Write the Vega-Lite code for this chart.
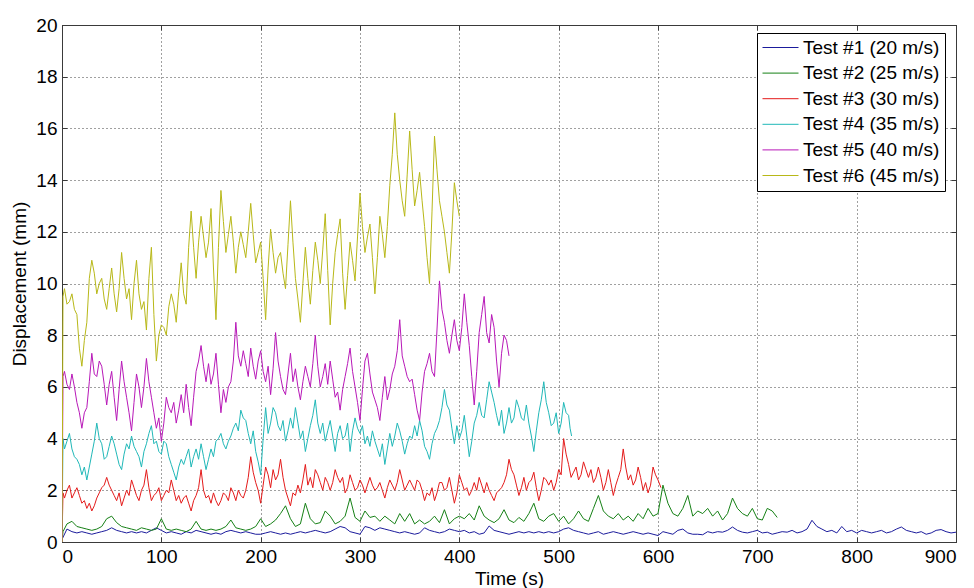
{
"$schema":"https://vega.github.io/schema/vega-lite/v6.json",
"width":894,"height":517,
"autosize":{"type":"none"},
"padding":{"left":62,"top":25,"right":18,"bottom":46},
"config":{
"font":"Liberation Sans",
"view":{"stroke":"#3a3a3a","strokeWidth":1},
"axis":{"labelFont":"Liberation Sans","labelFontSize":19,"labelColor":"#000","titleFont":"Liberation Sans","titleFontSize":19,"titleFontWeight":"normal","titleColor":"#000","domainColor":"#3a3a3a","tickColor":"#3a3a3a","tickSize":-5,"gridColor":"#000","gridDash":[1,3],"gridOpacity":0.75}
},
"resolve":{"axis":{"x":"independent","y":"independent"}},
"layer":[
{
"data":{"values":[
{"t":0,"a":0.1,"b":0,"c":0,"d":0,"e":0,"f":0},
{"t":1,"b":0.4,"c":1.9,"d":4.0,"e":6.4,"f":9.5},
{"t":2.5,"c":1.7,"d":3.6,"e":6.6,"f":9.8},
{"t":5,"a":0.5,"b":0.7,"c":2.0,"d":3.9,"e":6.1,"f":9.2},
{"t":7.5,"c":2.2,"d":4.2,"e":5.9,"f":9.3},
{"t":10,"a":0.4,"b":0.8,"c":1.7,"d":3.6,"e":6.5,"f":9.6},
{"t":12.5,"c":1.9,"d":3.3,"e":6.0,"f":9.0},
{"t":15,"a":0.35,"b":0.6,"c":2.1,"d":3.2,"e":5.4,"f":8.8},
{"t":17.5,"c":1.8,"d":3.0,"e":5.0,"f":7.5},
{"t":20,"a":0.4,"b":0.55,"c":1.5,"d":2.6,"e":4.4,"f":6.8},
{"t":22.5,"c":1.6,"d":2.9,"e":5.0,"f":7.8},
{"t":25,"a":0.35,"b":0.5,"c":1.3,"d":2.4,"e":5.2,"f":8.5},
{"t":27.5,"c":1.5,"d":2.9,"e":6.2,"f":10.2},
{"t":30,"a":0.3,"b":0.45,"c":1.2,"d":3.4,"e":7.3,"f":10.9},
{"t":32.5,"c":1.4,"d":3.9,"e":6.5,"f":10.4},
{"t":35,"a":0.35,"b":0.5,"c":1.7,"d":4.6,"e":6.4,"f":9.6},
{"t":37.5,"c":1.9,"d":4.0,"e":7.0,"f":10.0},
{"t":40,"a":0.4,"b":0.6,"c":2.1,"d":3.8,"e":6.8,"f":10.2},
{"t":42.5,"c":2.2,"d":3.2,"e":6.1,"f":9.4},
{"t":45,"a":0.45,"b":0.9,"c":2.5,"d":3.3,"e":5.3,"f":9.0},
{"t":47.5,"c":2.2,"d":3.7,"e":6.1,"f":9.8},
{"t":50,"a":0.55,"b":1.0,"c":2.0,"d":4.1,"e":6.6,"f":10.6},
{"t":52.5,"c":1.8,"d":3.8,"e":5.6,"f":9.6},
{"t":55,"a":0.45,"b":0.75,"c":1.6,"d":3.4,"e":4.7,"f":8.9},
{"t":57.5,"c":1.9,"d":3.0,"e":5.9,"f":9.8},
{"t":60,"a":0.4,"b":0.6,"c":1.4,"d":2.8,"e":7.0,"f":11.2},
{"t":62.5,"c":1.7,"d":3.4,"e":6.2,"f":10.2},
{"t":65,"a":0.35,"b":0.55,"c":2.0,"d":3.8,"e":5.6,"f":9.4},
{"t":67.5,"c":1.8,"d":3.6,"e":5.0,"f":9.8},
{"t":70,"a":0.4,"b":0.5,"c":2.4,"d":4.1,"e":4.3,"f":8.6},
{"t":72.5,"c":2.1,"d":3.7,"e":5.4,"f":10.0},
{"t":75,"a":0.35,"b":0.45,"c":1.8,"d":3.5,"e":6.5,"f":10.9},
{"t":77.5,"c":1.6,"d":3.3,"e":6.0,"f":9.6},
{"t":80,"a":0.4,"b":0.55,"c":2.0,"d":2.9,"e":5.2,"f":9.0},
{"t":82.5,"c":2.2,"d":3.5,"e":6.0,"f":9.3},
{"t":85,"a":0.35,"b":0.5,"c":2.8,"d":3.8,"e":7.1,"f":8.2},
{"t":87.5,"c":2.1,"d":4.2,"e":6.2,"f":10.2},
{"t":90,"a":0.45,"b":0.45,"c":1.6,"d":4.5,"e":5.6,"f":11.4},
{"t":92.5,"c":1.8,"d":3.8,"e":5.0,"f":8.8},
{"t":95,"a":0.55,"b":0.5,"c":1.9,"d":3.9,"e":4.4,"f":7.0},
{"t":97.5,"c":2.1,"d":3.5,"e":4.8,"f":8.0},
{"t":100,"a":0.45,"b":0.9,"c":1.6,"d":3.4,"e":3.9,"f":8.4},
{"t":102.5,"c":1.8,"d":3.9,"e":4.6,"f":8.3},
{"t":105,"a":0.35,"b":0.5,"c":2.0,"d":3.8,"e":5.6,"f":8.0},
{"t":107.5,"c":1.9,"d":3.3,"e":5.2,"f":9.1},
{"t":110,"a":0.4,"b":0.45,"c":2.4,"d":3.0,"e":5.0,"f":9.6},
{"t":112.5,"c":2.0,"d":2.7,"e":5.4,"f":9.2},
{"t":115,"a":0.35,"b":0.5,"c":1.6,"d":2.4,"e":4.6,"f":8.5},
{"t":117.5,"c":1.8,"d":2.9,"e":5.1,"f":9.7},
{"t":120,"a":0.3,"b":0.45,"c":1.5,"d":3.2,"e":5.7,"f":10.8},
{"t":122.5,"c":1.7,"d":3.0,"e":5.0,"f":9.6},
{"t":125,"a":0.4,"b":0.4,"c":1.8,"d":3.3,"e":6.1,"f":9.2},
{"t":127.5,"c":1.5,"d":3.6,"e":5.2,"f":11.4},
{"t":130,"a":0.35,"b":0.5,"c":1.2,"d":2.9,"e":4.5,"f":12.8},
{"t":132.5,"c":1.6,"d":3.3,"e":5.6,"f":11.4},
{"t":135,"a":0.45,"b":0.8,"c":1.8,"d":3.6,"e":6.6,"f":10.2},
{"t":137.5,"c":2.1,"d":3.2,"e":7.0,"f":11.6},
{"t":140,"a":0.4,"b":0.5,"c":2.8,"d":3.8,"e":7.6,"f":12.6},
{"t":142.5,"c":2.0,"d":3.3,"e":6.8,"f":11.8},
{"t":145,"a":0.35,"b":0.45,"c":1.7,"d":2.8,"e":6.2,"f":11.0},
{"t":147.5,"c":1.8,"d":3.2,"e":6.9,"f":11.6},
{"t":150,"a":0.3,"b":0.5,"c":1.5,"d":3.6,"e":6.1,"f":12.9},
{"t":152.5,"c":1.9,"d":3.3,"e":6.5,"f":10.6},
{"t":155,"a":0.35,"b":0.45,"c":1.6,"d":3.9,"e":7.3,"f":8.6},
{"t":157.5,"c":1.4,"d":4.0,"e":6.1,"f":11.4},
{"t":160,"a":0.3,"b":0.5,"c":1.6,"d":4.2,"e":5.0,"f":13.6},
{"t":162.5,"c":1.9,"d":3.8,"e":5.9,"f":12.4},
{"t":165,"a":0.4,"b":0.6,"c":1.8,"d":3.6,"e":5.4,"f":11.2},
{"t":167.5,"c":1.6,"d":3.9,"e":6.0,"f":11.9},
{"t":170,"a":0.45,"b":0.85,"c":2.1,"d":4.1,"e":6.2,"f":12.6},
{"t":172.5,"c":1.9,"d":4.4,"e":7.0,"f":11.6},
{"t":175,"a":0.4,"b":0.55,"c":1.6,"d":4.6,"e":8.5,"f":10.4},
{"t":177.5,"c":2.0,"d":4.3,"e":7.2,"f":11.4},
{"t":180,"a":0.35,"b":0.5,"c":1.8,"d":5.1,"e":6.8,"f":12.0},
{"t":182.5,"c":1.7,"d":4.8,"e":7.4,"f":11.5},
{"t":185,"a":0.4,"b":0.45,"c":2.0,"d":4.7,"e":6.9,"f":11.0},
{"t":187.5,"c":2.5,"d":4.2,"e":6.4,"f":12.0},
{"t":190,"a":0.35,"b":0.5,"c":3.3,"d":3.8,"e":7.5,"f":13.1},
{"t":192.5,"c":2.7,"d":4.3,"e":6.8,"f":11.9},
{"t":195,"a":0.3,"b":0.6,"c":2.3,"d":3.5,"e":6.3,"f":10.8},
{"t":197.5,"c":2.0,"d":3.1,"e":7.0,"f":11.2},
{"t":200,"a":0.3,"b":0.9,"c":1.5,"d":2.6,"e":7.4,"f":11.6},
{"t":202.5,"c":2.2,"d":4.0,"e":6.6,"f":10.2},
{"t":205,"a":0.35,"b":0.6,"c":2.9,"d":5.2,"e":6.2,"f":8.6},
{"t":207.5,"c":2.6,"d":4.2,"e":6.8,"f":10.6},
{"t":210,"a":0.4,"b":0.7,"c":2.1,"d":4.6,"e":5.7,"f":12.1},
{"t":212.5,"c":2.8,"d":5.2,"e":6.7,"f":11.2},
{"t":215,"a":0.35,"b":0.85,"c":2.4,"d":5.0,"e":8.1,"f":10.4},
{"t":217.5,"c":2.6,"d":4.5,"e":7.0,"f":11.0},
{"t":220,"a":0.3,"b":1.1,"c":3.2,"d":4.3,"e":6.4,"f":11.2},
{"t":222.5,"c":2.5,"d":4.7,"e":5.9,"f":10.4},
{"t":225,"a":0.35,"b":1.4,"c":2.0,"d":3.9,"e":5.7,"f":9.8},
{"t":227.5,"c":1.7,"d":4.3,"e":6.5,"f":11.5},
{"t":230,"a":0.3,"b":0.9,"c":1.4,"d":4.8,"e":7.3,"f":13.2},
{"t":232.5,"c":1.9,"d":4.4,"e":6.2,"f":11.6},
{"t":235,"a":0.35,"b":0.6,"c":1.8,"d":5.2,"e":6.7,"f":10.2},
{"t":237.5,"c":2.2,"d":4.6,"e":6.0,"f":9.4},
{"t":240,"a":0.4,"b":0.7,"c":1.9,"d":4.0,"e":5.5,"f":8.5},
{"t":242.5,"c":2.4,"d":4.3,"e":6.2,"f":10.0},
{"t":245,"a":0.35,"b":1.5,"c":3.0,"d":3.5,"e":6.8,"f":11.4},
{"t":247.5,"c":2.2,"d":4.0,"e":6.4,"f":10.2},
{"t":250,"a":0.4,"b":0.9,"c":2.5,"d":4.5,"e":6.0,"f":9.2},
{"t":252.5,"c":2.1,"d":4.9,"e":6.9,"f":10.5},
{"t":255,"a":0.45,"b":0.7,"c":2.8,"d":5.5,"e":8.0,"f":11.6},
{"t":257.5,"c":2.6,"d":4.6,"e":6.8,"f":10.9},
{"t":260,"a":0.4,"b":0.75,"c":2.3,"d":4.2,"e":6.0,"f":10.0},
{"t":262.5,"c":2.0,"d":4.6,"e":6.4,"f":11.3},
{"t":265,"a":0.35,"b":1.2,"c":2.5,"d":3.9,"e":6.9,"f":12.7},
{"t":267.5,"c":2.3,"d":4.3,"e":6.1,"f":10.5},
{"t":270,"a":0.4,"b":1.0,"c":2.0,"d":4.7,"e":7.0,"f":8.4},
{"t":272.5,"c":2.3,"d":4.1,"e":6.3,"f":10.0},
{"t":275,"a":0.5,"b":0.7,"c":2.8,"d":3.5,"e":5.6,"f":11.2},
{"t":277.5,"c":2.5,"d":4.2,"e":5.8,"f":11.9},
{"t":280,"a":0.6,"b":0.8,"c":2.3,"d":4.5,"e":5.1,"f":12.5},
{"t":282.5,"c":2.5,"d":4.0,"e":5.9,"f":10.4},
{"t":285,"a":0.55,"b":1.0,"c":1.9,"d":4.1,"e":6.4,"f":9.0},
{"t":287.5,"c":2.1,"d":4.6,"e":6.9,"f":10.3},
{"t":290,"a":0.4,"b":1.7,"c":2.6,"d":3.5,"e":7.5,"f":11.6},
{"t":292.5,"c":2.3,"d":4.3,"e":6.6,"f":10.9},
{"t":295,"a":0.35,"b":0.95,"c":2.0,"d":4.8,"e":6.0,"f":10.1},
{"t":297.5,"c":2.1,"d":4.4,"e":5.4,"f":11.8},
{"t":300,"a":0.3,"b":0.8,"c":2.4,"d":4.2,"e":4.7,"f":13.5},
{"t":302.5,"c":2.2,"d":4.5,"e":5.9,"f":12.2},
{"t":305,"a":0.6,"b":1.2,"c":1.9,"d":3.8,"e":7.0,"f":11.2},
{"t":307.5,"c":2.2,"d":4.1,"e":7.3,"f":11.8},
{"t":310,"a":0.55,"b":0.95,"c":2.5,"d":3.7,"e":6.5,"f":12.3},
{"t":312.5,"c":2.2,"d":4.3,"e":5.8,"f":11.0},
{"t":315,"a":0.45,"b":1.0,"c":2.0,"d":3.9,"e":5.5,"f":9.6},
{"t":317.5,"c":2.1,"d":3.6,"e":5.2,"f":11.0},
{"t":320,"a":0.55,"b":0.8,"c":2.3,"d":3.3,"e":4.7,"f":12.6},
{"t":322.5,"c":2.0,"d":3.8,"e":5.6,"f":11.9},
{"t":325,"a":0.5,"b":1.0,"c":1.7,"d":3.0,"e":6.4,"f":11.0},
{"t":327.5,"c":2.1,"d":3.6,"e":5.5,"f":12.2},
{"t":330,"a":0.45,"b":0.85,"c":2.4,"d":4.2,"e":5.9,"f":13.8},
{"t":332.5,"c":2.2,"d":3.7,"e":6.5,"f":15.0},
{"t":335,"a":0.4,"b":0.7,"c":2.0,"d":4.1,"e":6.8,"f":16.6},
{"t":337.5,"c":2.3,"d":4.6,"e":7.4,"f":15.0},
{"t":340,"a":0.35,"b":1.1,"c":2.8,"d":4.3,"e":8.6,"f":14.0},
{"t":342.5,"c":2.4,"d":3.9,"e":7.2,"f":13.2},
{"t":345,"a":0.4,"b":0.8,"c":2.0,"d":3.4,"e":6.8,"f":12.6},
{"t":347.5,"c":2.2,"d":3.8,"e":6.4,"f":14.2},
{"t":350,"a":0.35,"b":1.1,"c":2.4,"d":4.1,"e":6.2,"f":15.9},
{"t":352.5,"c":2.2,"d":4.0,"e":6.3,"f":14.4},
{"t":355,"a":0.3,"b":0.7,"c":2.0,"d":4.5,"e":5.7,"f":13.0},
{"t":357.5,"c":2.4,"d":4.1,"e":5.1,"f":13.6},
{"t":360,"a":0.35,"b":0.85,"c":2.3,"d":4.7,"e":4.7,"f":14.3},
{"t":362.5,"c":2.0,"d":4.3,"e":5.8,"f":13.2},
{"t":365,"a":0.55,"b":0.7,"c":1.6,"d":3.7,"e":6.6,"f":12.2},
{"t":367.5,"c":1.9,"d":3.5,"e":6.9,"f":11.0},
{"t":370,"a":0.45,"b":0.8,"c":1.8,"d":3.2,"e":7.3,"f":10.0},
{"t":372.5,"c":2.1,"d":3.8,"e":6.6,"f":12.8},
{"t":375,"a":0.4,"b":1.0,"c":1.6,"d":4.2,"e":6.4,"f":15.7},
{"t":377.5,"c":1.9,"d":4.4,"e":8.2,"f":14.4},
{"t":380,"a":0.35,"b":0.75,"c":2.3,"d":4.7,"e":10.1,"f":13.2},
{"t":382.5,"c":2.3,"d":5.2,"e":9.0,"f":12.6},
{"t":385,"a":0.4,"b":1.25,"c":2.0,"d":5.9,"e":8.5,"f":12.0},
{"t":387.5,"c":2.1,"d":5.3,"e":7.8,"f":11.2},
{"t":390,"a":0.5,"b":0.7,"c":2.5,"d":5.1,"e":7.3,"f":10.4},
{"t":392.5,"c":2.0,"d":4.4,"e":8.0,"f":12.0},
{"t":395,"a":0.45,"b":0.9,"c":1.5,"d":3.8,"e":8.6,"f":13.9},
{"t":397.5,"c":1.9,"d":4.5,"e":7.8,"f":13.2},
{"t":400,"a":0.4,"b":1.0,"c":2.6,"d":4.0,"e":7.4,"f":12.6},
{"t":402.5,"c":2.3,"d":4.3,"e":8.3},
{"t":405,"a":0.45,"b":0.9,"c":2.0,"d":4.9,"e":9.6},
{"t":407.5,"c":2.1,"d":4.1,"e":8.5},
{"t":410,"a":0.35,"b":1.1,"c":1.8,"d":3.3,"e":7.6},
{"t":412.5,"c":2.0,"d":3.9,"e":6.4},
{"t":415,"a":0.4,"b":0.85,"c":2.3,"d":4.6,"e":5.3},
{"t":417.5,"c":2.0,"d":4.9,"e":6.6},
{"t":420,"a":0.3,"b":1.4,"c":2.5,"d":5.4,"e":8.1},
{"t":422.5,"c":2.2,"d":4.9,"e":8.8},
{"t":425,"a":0.35,"b":1.0,"c":1.9,"d":4.8,"e":9.5},
{"t":427.5,"c":2.3,"d":5.5,"e":8.1},
{"t":430,"a":0.62,"b":0.85,"c":2.0,"d":6.2,"e":7.7},
{"t":432.5,"c":1.8,"d":5.8,"e":8.8},
{"t":435,"a":0.45,"b":0.75,"c":1.6,"d":5.4,"e":8.3},
{"t":437.5,"c":1.9,"d":4.9,"e":7.0},
{"t":440,"a":0.4,"b":0.9,"c":2.0,"d":4.5,"e":6.0},
{"t":442.5,"c":2.1,"d":5.1,"e":7.3},
{"t":445,"a":0.35,"b":1.25,"c":2.3,"d":4.2,"e":8.0},
{"t":447.5,"c":2.6,"d":4.6,"e":7.8},
{"t":450,"a":0.3,"b":0.85,"c":3.2,"d":5.2,"e":7.2},
{"t":452.5,"c":2.8,"d":4.6},
{"t":455,"a":0.35,"b":0.75,"c":2.6,"d":4.8},
{"t":457.5,"c":2.2,"d":5.5},
{"t":460,"a":0.4,"b":0.95,"c":1.8,"d":5.2},
{"t":462.5,"c":2.1,"d":4.8},
{"t":465,"a":0.35,"b":0.8,"c":2.5,"d":4.7},
{"t":467.5,"c":2.0,"d":5.3},
{"t":470,"a":0.4,"b":1.1,"c":2.3,"d":4.6},
{"t":472.5,"c":2.4,"d":4.1},
{"t":475,"a":0.35,"b":1.5,"c":2.7,"d":3.5},
{"t":477.5,"c":2.1,"d":4.3},
{"t":480,"a":0.4,"b":0.9,"c":1.6,"d":5.0},
{"t":482.5,"c":2.0,"d":5.5},
{"t":485,"a":0.35,"b":0.8,"c":2.5,"d":6.2},
{"t":487.5,"c":2.4,"d":5.4},
{"t":490,"a":0.4,"b":1.0,"c":2.2,"d":5.0},
{"t":492.5,"c":2.4,"d":4.5},
{"t":495,"a":0.35,"b":1.1,"c":2.0,"d":4.6},
{"t":497.5,"c":2.3,"d":5.0},
{"t":500,"a":0.4,"b":0.8,"c":2.8,"d":4.2},
{"t":502.5,"c":2.6,"d":4.6},
{"t":505,"a":0.5,"b":1.0,"c":4.0,"d":5.4},
{"t":507.5,"c":3.4,"d":5.0},
{"t":510,"a":0.55,"b":0.7,"c":3.0,"d":4.9},
{"t":511.5,"d":4.4},
{"t":512.5,"c":2.5},
{"t":513,"d":4.1},
{"t":515,"a":0.45,"b":0.9,"c":2.7},
{"t":517.5,"c":2.9},
{"t":520,"a":0.4,"b":1.2,"c":2.4},
{"t":522.5,"c":2.6},
{"t":525,"a":0.35,"b":0.9,"c":3.1},
{"t":527.5,"c":2.8},
{"t":530,"a":0.3,"b":0.8,"c":2.5},
{"t":532.5,"c":2.8},
{"t":535,"a":0.35,"b":1.3,"c":2.3},
{"t":537.5,"c":2.5},
{"t":540,"a":0.4,"b":1.8,"c":2.9},
{"t":542.5,"c":2.5},
{"t":545,"a":0.3,"b":1.2,"c":2.0},
{"t":547.5,"c":2.3},
{"t":550,"a":0.35,"b":1.0,"c":2.8},
{"t":552.5,"c":2.3},
{"t":555,"a":0.4,"b":0.9,"c":1.8},
{"t":557.5,"c":2.2},
{"t":560,"a":0.35,"b":1.1,"c":2.5},
{"t":562.5,"c":2.8},
{"t":565,"a":0.3,"b":0.85,"c":3.6},
{"t":567.5,"c":2.9},
{"t":570,"a":0.35,"b":1.0,"c":2.4},
{"t":572.5,"c":2.6},
{"t":575,"a":0.4,"b":0.8,"c":2.2},
{"t":577.5,"c":2.4},
{"t":580,"a":0.35,"b":1.1,"c":2.9},
{"t":582.5,"c":2.5},
{"t":585,"a":0.3,"b":0.9,"c":2.0},
{"t":587.5,"c":2.3},
{"t":590,"a":0.35,"b":1.3,"c":1.9},
{"t":592.5,"c":2.2},
{"t":595,"a":0.3,"b":1.0,"c":2.9},
{"t":597.5,"c":2.6},
{"t":600,"a":0.25,"b":1.1,"c":2.4},
{"t":603,"c":2.1},
{"t":605,"a":0.4,"b":2.2},
{"t":610,"a":0.35,"b":1.5},
{"t":615,"a":0.3,"b":1.1},
{"t":620,"a":0.45,"b":1.0},
{"t":625,"a":0.5,"b":1.3},
{"t":630,"a":0.35,"b":1.8},
{"t":635,"a":0.3,"b":1.0},
{"t":640,"a":0.3,"b":1.2},
{"t":645,"a":0.28,"b":1.1},
{"t":650,"a":0.4,"b":1.3},
{"t":655,"a":0.35,"b":1.0},
{"t":660,"a":0.4,"b":1.2},
{"t":665,"a":0.38,"b":0.85},
{"t":670,"a":0.45,"b":1.1},
{"t":675,"a":0.58,"b":1.7},
{"t":680,"a":0.45,"b":1.3},
{"t":685,"a":0.38,"b":1.1},
{"t":690,"a":0.35,"b":1.0},
{"t":695,"a":0.4,"b":1.3},
{"t":700,"a":0.45,"b":0.9},
{"t":705,"a":0.35,"b":0.85},
{"t":710,"a":0.38,"b":1.3},
{"t":715,"a":0.3,"b":1.2},
{"t":720,"a":0.35,"b":0.95},
{"t":725,"a":0.4},{"t":730,"a":0.38},{"t":735,"a":0.45},{"t":740,"a":0.35},{"t":745,"a":0.4},
{"t":750,"a":0.5},{"t":755,"a":0.84},{"t":760,"a":0.6},{"t":765,"a":0.5},{"t":770,"a":0.4},
{"t":775,"a":0.45},{"t":780,"a":0.35},{"t":785,"a":0.6},{"t":790,"a":0.4},{"t":795,"a":0.45},
{"t":800,"a":0.35},{"t":805,"a":0.45},{"t":810,"a":0.4},{"t":815,"a":0.35},{"t":820,"a":0.4},
{"t":825,"a":0.45},{"t":830,"a":0.35},{"t":835,"a":0.4},{"t":840,"a":0.5},{"t":845,"a":0.58},
{"t":850,"a":0.45},{"t":855,"a":0.4},{"t":860,"a":0.35},{"t":865,"a":0.4},{"t":870,"a":0.3},
{"t":875,"a":0.35},{"t":880,"a":0.45},{"t":885,"a":0.48},{"t":890,"a":0.4},{"t":895,"a":0.35},
{"t":900,"a":0.38}
]},
"transform":[
{"fold":["a","b","c","d","e","f"],"as":["s","v"]},
{"filter":"isValid(datum.v)"}
],
"mark":{"type":"line","strokeWidth":1,"clip":true},
"encoding":{
"x":{"field":"t","type":"quantitative","scale":{"domain":[0,900],"nice":false},"axis":{"values":[0,100,200,300,400,500,600,700,800,900],"title":"Time (s)","labelPadding":10,"titlePadding":3}},
"y":{"field":"v","type":"quantitative","scale":{"domain":[0,20],"nice":false},"axis":{"values":[0,2,4,6,8,10,12,14,16,18,20],"title":"Displacement (mm)","labelPadding":10,"titlePadding":6}},
"color":{"field":"s","type":"nominal","scale":{"domain":["a","b","c","d","e","f"],"range":["#1b1b9c","#158015","#e41a1a","#20b8b8","#b818b8","#b8b818"]},
"legend":{"orient":"none","legendX":695,"legendY":8,"title":null,"strokeColor":"#000","fillColor":"#fff","padding":5,"labelFont":"Liberation Sans","labelFontSize":19,"labelColor":"#000","symbolType":"M-1,0H3","symbolSize":324,"symbolStrokeWidth":1,"rowPadding":5.6,"labelOffset":22,
"labelExpr":"datum.label=='a'?'Test #1 (20 m/s)':datum.label=='b'?'Test #2 (25 m/s)':datum.label=='c'?'Test #3 (30 m/s)':datum.label=='d'?'Test #4 (35 m/s)':datum.label=='e'?'Test #5 (40 m/s)':'Test #6 (45 m/s)'"}}
}
},
{
"data":{"values":[{"t":0,"v":0}]},
"mark":{"type":"point","opacity":0},
"encoding":{
"x":{"field":"t","type":"quantitative","scale":{"domain":[0,900],"nice":false},"axis":{"orient":"top","values":[0,100,200,300,400,500,600,700,800,900],"labels":false,"grid":false,"title":null}},
"y":{"field":"v","type":"quantitative","scale":{"domain":[0,20],"nice":false},"axis":{"orient":"right","values":[0,2,4,6,8,10,12,14,16,18,20],"labels":false,"grid":false,"title":null}}
}
}
]
}
